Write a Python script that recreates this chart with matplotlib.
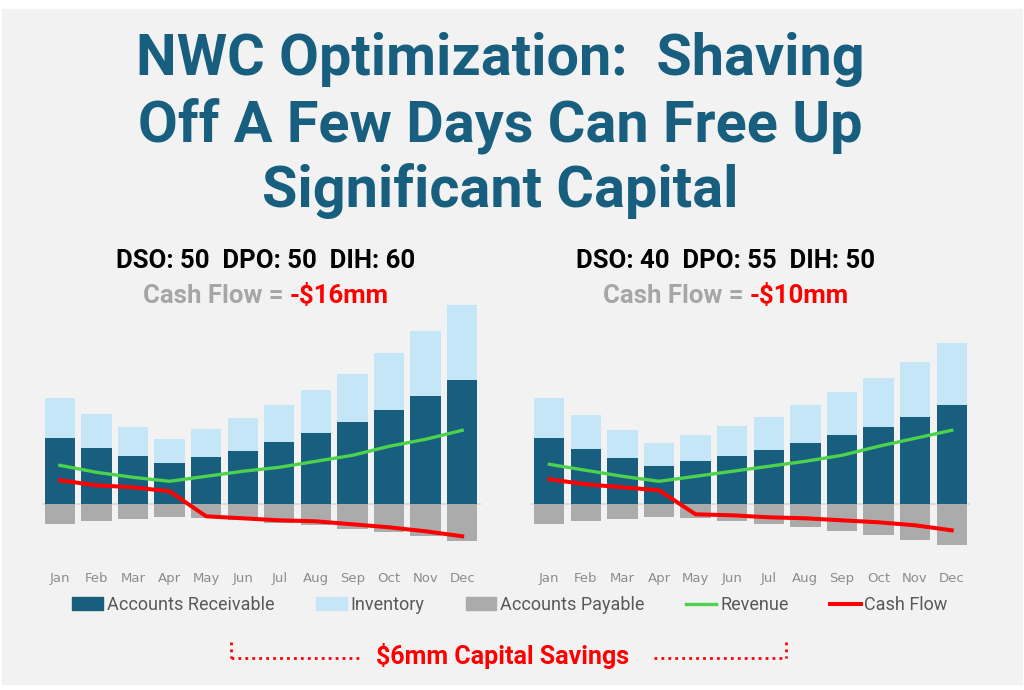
import matplotlib.pyplot as plt
from matplotlib.patches import Rectangle, Patch
from matplotlib.lines import Line2D

months = ['Jan', 'Feb', 'Mar', 'Apr', 'May', 'Jun', 'Jul', 'Aug', 'Sep', 'Oct', 'Nov', 'Dec']

# left scenario: DSO 50 / DPO 50 / DIH 60
ar_left = [66, 56, 48, 41, 47, 53, 62, 71, 82, 94, 108, 124]
inv_left = [40, 34, 29, 24, 28, 33, 37, 43, 48, 57, 65, 75]
ap_left = [20, 17, 15, 13, 14, 16, 19, 21, 25, 28, 32, 37]
rev_left = [39, 32, 27, 23, 28, 33, 37, 43, 49, 58, 65, 74]
cf_left = [24, 19, 17, 13, -12, -14, -16, -17, -20, -23, -27, -32]

# right scenario: DSO 40 / DPO 55 / DIH 50
ar_right = [66, 55, 46, 38, 43, 48, 54, 61, 69, 77, 87, 99]
inv_right = [40, 34, 28, 23, 26, 30, 33, 38, 43, 49, 55, 62]
ap_right = [20, 17, 15, 13, 14, 17, 20, 23, 27, 31, 36, 41]
rev_right = [40, 34, 28, 23, 28, 33, 38, 43, 49, 58, 66, 74]
cf_right = [25, 20, 17, 14, -10, -11, -13, -14, -16, -18, -21, -26]

headers = ['DSO: 50  DPO: 50  DIH: 60', 'DSO: 40  DPO: 55  DIH: 50']
cash_flows = ['-$16mm', '-$10mm']

c_ar = '#175E7F'
c_inv = '#C5E6F6'
c_ap = '#ABABAB'
c_rev = '#4CD24C'
c_cf = '#FF0000'
c_bg = '#F2F2F2'

W, H = 1024, 690
fig = plt.figure(figsize=(W / 100, H / 100), dpi=100, facecolor='white')
fig.patches.append(Rectangle((2 / W, 1 - 684 / H), 1020 / W, 675 / H,
                             transform=fig.transFigure, color=c_bg, zorder=-10))

bold = ['Roboto', 'Liberation Sans', 'DejaVu Sans']
narrow = ['Roboto', 'Liberation Sans', 'DejaVu Sans']

# title (baselines in px from top)
for i, line in enumerate(['NWC Optimization:  Shaving', 'Off A Few Days Can Free Up',
                          'Significant Capital']):
    fig.text(500 / W, 1 - (75 + i * 66) / H, line, ha='center', va='baseline',
             fontsize=41.5, fontweight='bold', color='#175E7F', family=bold)

data = [(ar_left, inv_left, ap_left, rev_left, cf_left),
        (ar_right, inv_right, ap_right, rev_right, cf_right)]
ax_left = [41.5, 531]
centers = [266, 726]

renderer = fig.canvas.get_renderer()
for k in range(2):
    ar, inv, ap, rev, cf = data[k]
    ax = fig.add_axes([ax_left[k] / W, 1 - 555 / H, 439 / W, 260 / H])
    ax.set_facecolor('none')
    x = range(len(months))
    ax.axhline(0, color='#DCDCDC', lw=1.5, zorder=0)
    ax.bar(x, ar, width=0.83, color=c_ar, zorder=2)
    ax.bar(x, inv, width=0.83, bottom=ar, color=c_inv, zorder=2)
    ax.bar(x, [-v for v in ap], width=0.83, color=c_ap, zorder=2)
    ax.plot(x, rev, color=c_rev, lw=2.4, zorder=3)
    ax.plot(x, cf, color=c_cf, lw=2.9, zorder=4)
    ax.set_xlim(-0.5, 11.5)
    ax.set_ylim(-50.7, 209.3)
    ax.set_xticks(list(x))
    ax.set_xticklabels(months)
    ax.set_yticks([])
    ax.tick_params(axis='x', length=0, pad=12, labelsize=9.5, labelcolor='#8C8C8C')
    for s in ax.spines.values():
        s.set_visible(False)

    cx = centers[k] / W
    fig.text(cx, 1 - 268 / H, headers[k], ha='center', va='baseline',
             fontsize=18.5, fontweight='bold', color='black', family=bold)
    t1 = fig.text(0, 1 - 303 / H, 'Cash Flow = ', ha='left', va='baseline',
                  fontsize=18.5, fontweight='bold', color='#A6A6A6', family=bold)
    t2 = fig.text(0, 1 - 303 / H, cash_flows[k], ha='left', va='baseline',
                  fontsize=18.5, fontweight='bold', color=c_cf, family=bold)
    w1 = t1.get_window_extent(renderer).width / W
    w2 = t2.get_window_extent(renderer).width / W
    x0 = cx - (w1 + w2) / 2
    t1.set_x(x0)
    t2.set_x(x0 + w1)

handles = [Patch(color=c_ar), Patch(color=c_inv), Patch(color=c_ap),
           Line2D([], [], color=c_rev, lw=2.4), Line2D([], [], color=c_cf, lw=2.9)]
labels = ['Accounts Receivable', 'Inventory', 'Accounts Payable', 'Revenue', 'Cash Flow']
fig.legend(handles, labels, loc='center', bbox_to_anchor=(510 / W, 1 - 605 / H),
           ncol=5, frameon=False, handlelength=1.7, handletextpad=0.2,
           columnspacing=2.3, prop={'family': narrow, 'size': 13}, labelcolor='#595959')

# capital savings callout
fig.text(502 / W, 1 - 664 / H, '$6mm Capital Savings', ha='center', va='baseline',
         fontsize=18, fontweight='bold', color=c_cf, family=narrow)
dot = dict(color=c_cf, lw=2, ls=(0, (1, 1.5)), transform=fig.transFigure)
fig.add_artist(Line2D([231 / W, 360 / W], [1 - 658 / H] * 2, **dot))
fig.add_artist(Line2D([231 / W, 231 / W], [1 - 642 / H, 1 - 658 / H], **dot))
fig.add_artist(Line2D([654 / W, 786 / W], [1 - 658 / H] * 2, **dot))
fig.add_artist(Line2D([786 / W, 786 / W], [1 - 642 / H, 1 - 658 / H], **dot))

fig.savefig('out.png', dpi=100, facecolor='white')
